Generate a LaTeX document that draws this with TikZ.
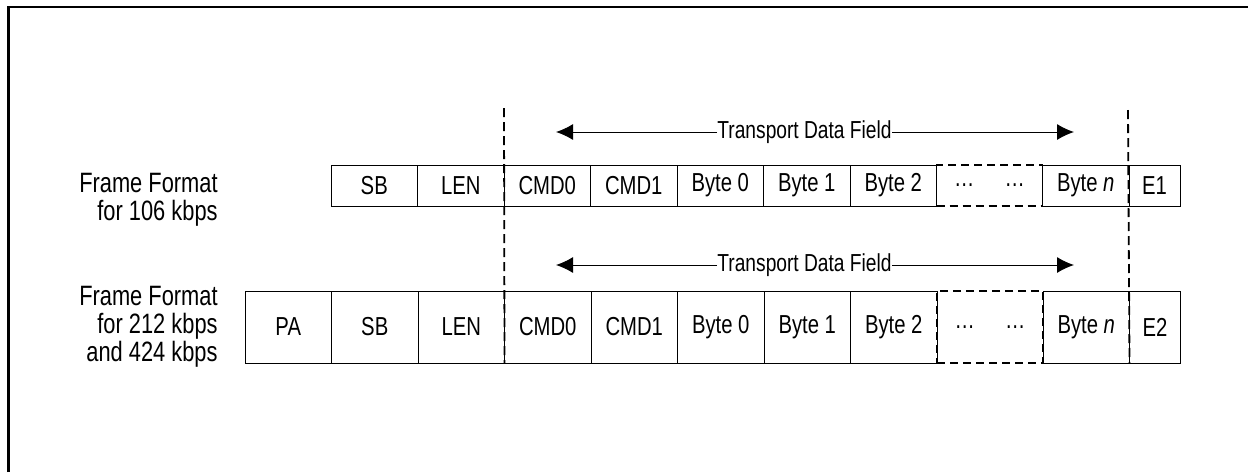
\documentclass[tikz,border=0pt]{standalone}
\usepackage{fontspec}
\setmainfont[FakeStretch=0.78]{Liberation Sans}
\usetikzlibrary{positioning, calc, arrows.meta}

\begin{document}
\begin{tikzpicture}[x=0.5pt, y=-0.5pt,
    cell/.style={draw, line width=0.5pt, anchor=west, inner sep=0pt, outer sep=0pt,
        minimum width=43.25pt, font=\fontsize{13}{15}\selectfont},
    row1/.style={cell, minimum height=20.5pt},
    row2/.style={cell, minimum height=36pt},
    gap/.style={dash pattern=on 4pt off 2.5pt, line width=0.8pt, minimum width=53pt},
    lbl/.style={anchor=east, align=right, inner sep=0pt, font=\fontsize{14}{14}\selectfont},
    field/.style={fill=white, inner sep=0pt, font=\fontsize{12.3}{14}\selectfont},
    arr/.style={-{Latex[length=8.5pt,width=8pt]}, line width=0.5pt},
    vline/.style={dash pattern=on 4.5pt off 2.5pt, line width=0.9pt}]
        \useasboundingbox (0,0) rectangle (1248,472);
        % Cadre
        \draw[line width=1.3pt] (8.5,472) -- (8.5,7) -- (1248,7);

        % Format 106 kbps
        \node[lbl] (lab1) at (218,199.5) {Frame Format\\for 106 kbps};
        \foreach \nm/\txt [count=\k] in {sb/SB, len/LEN, cmdz/CMD0, cmdo/CMD1, bz/Byte 0, bo/Byte 1, bt/Byte 2} {
            \node[row1] (\nm1) at ({331+86.5*(\k-1)}, 185.5) {\txt};
        }
        \node[row1, gap, right=0pt of bt1] (dots1) {\dots\hspace{15pt}\dots};
        \node[row1, right=0pt of dots1] (bn1) {Byte \textit{n}};
        \node[row1, minimum width=25.5pt, right=0pt of bn1] (e1) {E1};

        % Champ de donnees 1
        \node[field] (tdf1) at (804.5,132) {Transport Data Field};
        \coordinate (tl1) at (556,132); \coordinate (tr1) at (1074,132);
        \draw[arr] (tdf1) -- (tl1); \draw[arr] (tdf1) -- (tr1);

        % Format 212 / 424 kbps
        \node[lbl] (lab2) at (218,327) {Frame Format\\for 212 kbps\\and 424 kbps};
        \foreach \nm/\txt [count=\k] in {pa/PA, sb/SB, len/LEN, cmdz/CMD0, cmdo/CMD1, bz/Byte 0, bo/Byte 1, bt/Byte 2} {
            \node[row2] (\nm2) at ({245+86.5*(\k-1)}, 327) {\txt};
        }
        \node[row2, gap, right=0pt of bt2] (dots2) {\dots\hspace{15pt}\dots};
        \node[row2, right=0pt of dots2] (bn2) {Byte \textit{n}};
        \node[row2, minimum width=25.5pt, right=0pt of bn2] (e2) {E2};

        % Champ de donnees 2
        \node[field] (tdf2) at (804.5,265) {Transport Data Field};
        \coordinate (tl2) at (556,265); \coordinate (tr2) at (1074,265);
        \draw[arr] (tdf2) -- (tl2); \draw[arr] (tdf2) -- (tr2);

        % Limites du champ
        \coordinate (vt1) at (504,108); \coordinate (vt2) at (1128,110);
        \draw[vline] (vt1) -- (cmdz2.south west);
        \draw[vline] (vt2) -- (e2.south west);
\end{tikzpicture}
\end{document}
